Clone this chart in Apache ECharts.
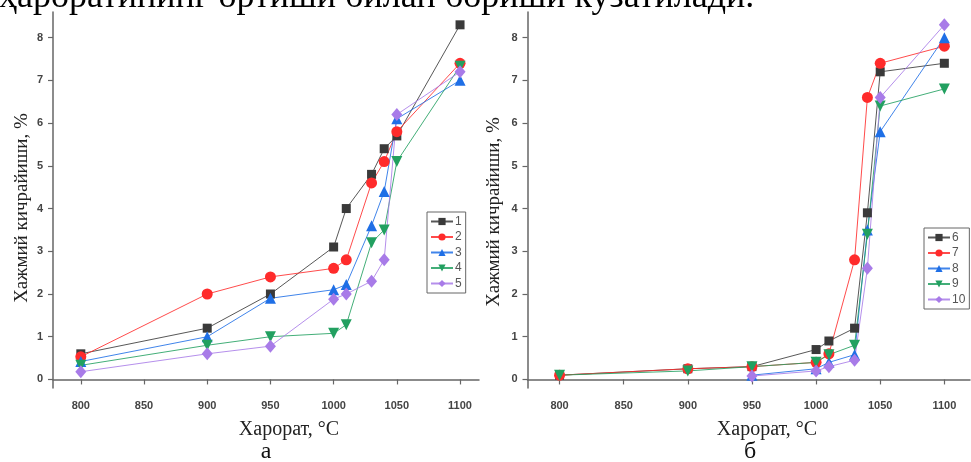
<!DOCTYPE html>
<html><head><meta charset="utf-8">
<script src="https://cdn.jsdelivr.net/npm/echarts@6/dist/echarts.min.js"></script>
<style>html,body{margin:0;padding:0;background:#fff}#c{width:971px;height:462px}</style>
</head><body><div id="c"></div>
<script>
// ---- data ----
const temps = [800, 900, 950, 1000, 1010, 1030, 1040, 1050, 1100];
const xTicks = [800, 850, 900, 950, 1000, 1050, 1100];
const yTicks = [0, 1, 2, 3, 4, 5, 6, 7, 8];
// panel a
const s1 = [0.6, 1.2, 2.0, 3.1, 4.0, 4.8, 5.4, 5.7, 8.3];
const s2 = [0.53, 2.0, 2.4, 2.6, 2.8, 4.6, 5.1, 5.8, 7.4];
const s3 = [0.42, 1.0, 1.9, 2.1, 2.22, 3.6, 4.4, 6.1, 7.0];
const s4 = [0.33, 0.8, 1.0, 1.08, 1.28, 3.2, 3.5, 5.1, 7.33];
const s5 = [0.18, 0.6, 0.78, 1.88, 2.0, 2.3, 2.8, 6.2, 7.2];
// panel б
const s6 = [0.1, 0.25, 0.3, 0.7, 0.9, 1.2, 3.9, 7.2, 7.4];
const s7 = [0.1, 0.25, 0.3, 0.4, 0.6, 2.8, 6.6, 7.4, 7.8];
const s8 = [null, null, 0.1, 0.25, 0.4, 0.58, 3.5, 5.8, 8.0];
const s9 = [0.1, 0.2, 0.3, 0.4, 0.58, 0.8, 3.4, 6.4, 6.8];
const s10 = [null, null, 0.08, 0.2, 0.3, 0.45, 2.6, 6.6, 8.3];
const namesA = ['1', '2', '3', '4', '5'];
const namesB = ['6', '7', '8', '9', '10'];
const yTitle = 'Хажмий кичрайиши, %';
const xTitle = 'Харорат, °C';
const topText = 'ҳароратининг ортиши билан бориши кузатилади.';

const colors = ['#3a3a3a', '#ff2b2b', '#1f6fe6', '#22a060', '#a87be8'];
const symbols = [
  {symbol: 'rect', size: 9, rotate: 0},
  {symbol: 'circle', size: 11, rotate: 0},
  {symbol: 'triangle', size: 11, rotate: 0},
  {symbol: 'triangle', size: 11, rotate: 180},
  {symbol: 'diamond', size: [11, 13], rotate: 0}
];
const toData = v => temps.map((t, i) => [t, v[i]]);

function mkSeries(name, vals, k, idx) {
  return {
    name: name, type: 'line', xAxisIndex: idx, yAxisIndex: idx,
    data: toData(vals), symbol: symbols[k].symbol, symbolSize: symbols[k].size,
    symbolRotate: symbols[k].rotate,
    lineStyle: {color: colors[k], width: 1, opacity: 0.85},
    itemStyle: {color: colors[k]},
    emphasis: {disabled: true}, animation: false
  };
}

const axisCommon = {
  axisLine: {show: true, lineStyle: {color: '#666', width: 1.5}},
  axisTick: {show: true, inside: false, length: 5, lineStyle: {color: '#666', width: 1.2}},
  splitLine: {show: false},
  axisLabel: {color: '#444', fontSize: 11, fontWeight: 'bold', fontFamily: 'Liberation Sans, Arial, sans-serif',
    formatter: v => String(v)}
};

function xAx(idx, min, max) {
  return Object.assign({}, axisCommon, {
    type: 'value', gridIndex: idx, min: min, max: max,
    axisTick: Object.assign({}, axisCommon.axisTick, {customValues: xTicks}),
    axisLabel: Object.assign({}, axisCommon.axisLabel, {customValues: xTicks, margin: 12})
  });
}
function yAx(idx) {
  return Object.assign({}, axisCommon, {
    type: 'value', gridIndex: idx, min: -0.2, max: 8.6,
    axisTick: Object.assign({}, axisCommon.axisTick, {customValues: yTicks}),
    axisLabel: Object.assign({}, axisCommon.axisLabel, {customValues: yTicks, margin: 10})
  });
}

const serifFont = 'Liberation Serif, Times New Roman, serif';
const legendCommon = {
  orient: 'vertical', itemWidth: 22, itemHeight: 9, itemGap: 2.5,
  borderColor: '#666', borderWidth: 1, padding: [3, 4, 3, 3],
  textStyle: {color: '#555', fontSize: 12, lineHeight: 13, fontFamily: 'Liberation Sans, Arial, sans-serif', padding: [0, 0, 0, -3]},
  backgroundColor: '#fff'
};

const option = {
  backgroundColor: '#fff',
  animation: false,
  grid: [
    {left: 53, top: 12, width: 426, height: 376},
    {left: 527.5, top: 12, width: 442.5, height: 376}
  ],
  xAxis: [xAx(0, 778, 1115), xAx(1, 775, 1120)],
  yAxis: [yAx(0), yAx(1)],
  legend: [
    Object.assign({}, legendCommon, {data: namesA, left: 427, top: 212}),
    Object.assign({}, legendCommon, {data: namesB, left: 924, top: 228})
  ],
  series: [
    mkSeries(namesA[0], s1, 0, 0), mkSeries(namesA[1], s2, 1, 0), mkSeries(namesA[2], s3, 2, 0),
    mkSeries(namesA[3], s4, 3, 0), mkSeries(namesA[4], s5, 4, 0),
    mkSeries(namesB[0], s6, 0, 1), mkSeries(namesB[1], s7, 1, 1), mkSeries(namesB[2], s8, 2, 1),
    mkSeries(namesB[3], s9, 3, 1), mkSeries(namesB[4], s10, 4, 1)
  ],
  graphic: [
    {type: 'text', left: -1, top: -20, style: {text: topText, font: '36px ' + serifFont, fill: '#000'}},
    {type: 'text', x: 22, y: 208, rotation: Math.PI / 2, style: {text: yTitle, font: '19px ' + serifFont, fill: '#222', align: 'center', verticalAlign: 'middle'}},
    {type: 'text', x: 494, y: 212, rotation: Math.PI / 2, style: {text: yTitle, font: '19px ' + serifFont, fill: '#222', align: 'center', verticalAlign: 'middle'}},
    {type: 'text', x: 289, y: 430, style: {text: xTitle, font: '20px ' + serifFont, fill: '#222', align: 'center', verticalAlign: 'middle'}},
    {type: 'text', x: 767, y: 430, style: {text: xTitle, font: '20px ' + serifFont, fill: '#222', align: 'center', verticalAlign: 'middle'}},
    {type: 'text', x: 266, y: 452, style: {text: 'а', font: '24px ' + serifFont, fill: '#111', align: 'center', verticalAlign: 'middle'}},
    {type: 'text', x: 750, y: 452, style: {text: 'б', font: '24px ' + serifFont, fill: '#111', align: 'center', verticalAlign: 'middle'}}
  ]
};
const chart = echarts.init(document.getElementById('c'), null, {renderer: 'canvas'});
chart.setOption(option);
</script></body></html>
